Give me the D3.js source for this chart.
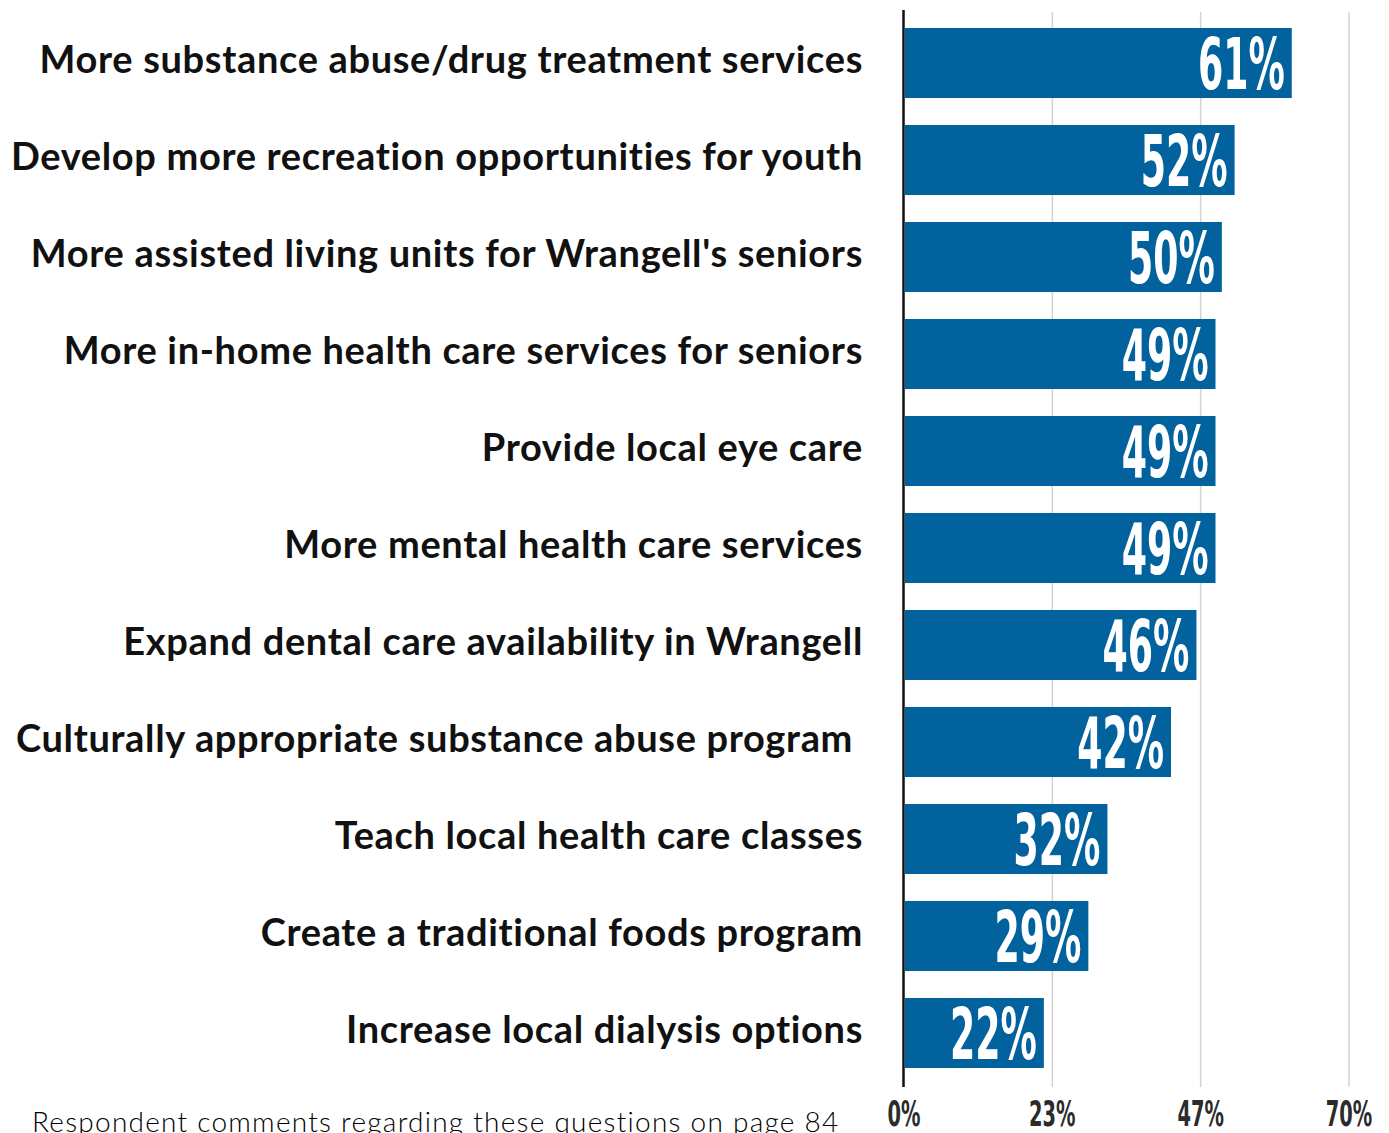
<!DOCTYPE html>
<html>
<head>
<meta charset="utf-8">
<script src="https://cdn.jsdelivr.net/npm/d3@7"></script>
<style>
  body { margin: 0; background: #fff; }
  svg { display: block; }
</style>
</head>
<body>
<div id="chart"></div>
<script>
const categories = [
  "More substance abuse/drug treatment services",
  "Develop more recreation opportunities for youth",
  "More assisted living units for Wrangell's seniors",
  "More in-home health care services for seniors",
  "Provide local eye care",
  "More mental health care services",
  "Expand dental care availability in Wrangell",
  "Culturally appropriate substance abuse program ",
  "Teach local health care classes",
  "Create a traditional foods program",
  "Increase local dialysis options"
];
const values = [61, 52, 50, 49, 49, 49, 46, 42, 32, 29, 22];
const tickValues = [0, 70 / 3, 140 / 3, 70];
const tickLabels = ["0%", "23%", "47%", "70%"];
const footnote = "Respondent comments regarding these questions on page 84";

const width = 1389;
const height = 1133;
const margin = { top: 28, bottom: 65, left: 904, right: 40 };

const svg = d3.select("#chart")
  .append("svg")
  .attr("width", width)
  .attr("height", height);

const x = d3.scaleLinear()
  .domain([0, 70])
  .range([margin.left, width - margin.right]);

const y = d3.scaleBand()
  .domain(d3.range(categories.length))
  .range([margin.top, height - margin.bottom])
  .paddingInner(0.278)
  .paddingOuter(0);

// gridlines
svg.append("g")
  .selectAll("line")
  .data(tickValues.slice(1))
  .join("line")
    .attr("x1", d => x(d))
    .attr("x2", d => x(d))
    .attr("y1", 12)
    .attr("y2", 1087)
    .attr("stroke", "#d3d3d3")
    .attr("stroke-width", 1.5);

// bars
svg.append("g")
  .attr("fill", "#02629e")
  .selectAll("rect")
  .data(values)
  .join("rect")
    .attr("x", x(0) + 1)
    .attr("y", (d, i) => y(i))
    .attr("width", d => x(d) - x(0) - 1)
    .attr("height", y.bandwidth());

// axis line
svg.append("line")
  .attr("x1", x(0) - 0.5)
  .attr("x2", x(0) - 0.5)
  .attr("y1", 10)
  .attr("y2", 1087)
  .attr("stroke", "#111")
  .attr("stroke-width", 2.5);

// category labels
svg.append("g")
  .selectAll("text")
  .data(categories)
  .join("text")
    .attr("x", 863)
    .attr("y", (d, i) => y(i) + y.bandwidth() / 2 + 10)
    .attr("text-anchor", "end")
    .style("white-space", "pre")
    .style("letter-spacing", "0.66px")
    .attr("font-family", "Lato, 'Open Sans', sans-serif")
    .attr("font-weight", 700)
    .attr("font-size", "38px")
    .attr("fill", "#111")
    .text(d => d);

// value labels (condensed)
const sx = 0.56;
svg.append("g")
  .selectAll("text")
  .data(values)
  .join("text")
    .attr("transform", (d, i) => `translate(${x(d) - 7},${y(i) + y.bandwidth() / 2 + 26}) scale(${sx},1)`)
    .attr("text-anchor", "end")
    .attr("font-family", "'DejaVu Sans Condensed', 'DejaVu Sans', sans-serif")
    .attr("font-weight", 700)
    .attr("font-size", "72px")
    .attr("fill", "#fff")
    .text(d => d + "%");

// x axis tick labels
svg.append("g")
  .selectAll("text")
  .data(tickValues)
  .join("text")
    .attr("transform", (d, i) => `translate(${x(d)},1126) scale(0.6,1)`)
    .attr("text-anchor", "middle")
    .attr("font-family", "'DejaVu Sans Condensed', 'DejaVu Sans', sans-serif")
    .attr("font-weight", 700)
    .attr("font-size", "36px")
    .attr("fill", "#2b2b2b")
    .text((d, i) => tickLabels[i]);

// footnote
svg.append("text")
  .attr("x", 32)
  .attr("y", 1132)
  .style("letter-spacing", "1.25px")
  .attr("font-family", "Lato, sans-serif")
  .attr("font-weight", 300)
  .attr("font-size", "28px")
  .attr("fill", "#000")
  .text(footnote);
</script>
</body>
</html>
